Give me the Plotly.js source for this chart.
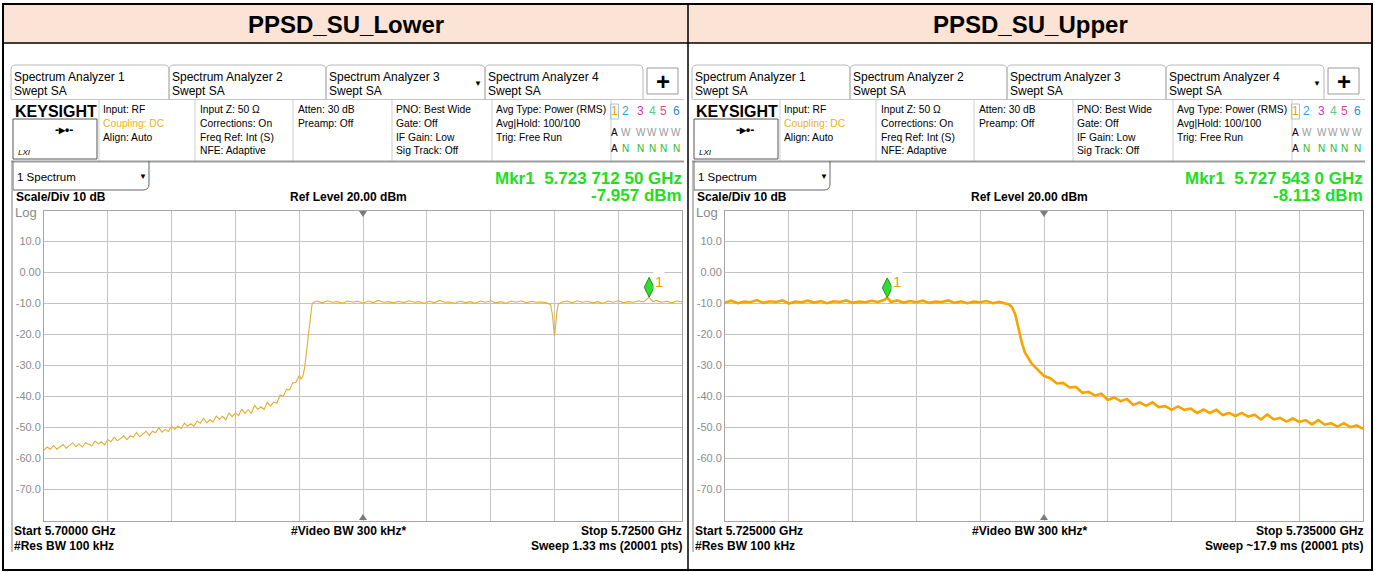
<!DOCTYPE html>
<html>
<head>
<meta charset="utf-8">
<script src="https://cdn.plot.ly/plotly-3.0.1.min.js"></script>
<style>html,body{margin:0;padding:0;background:#fff;}#chart{width:1375px;height:572px;}</style>
</head>
<body>
<div id="chart"></div>
<script>
// ---------------- DATA ----------------
const panelTitles = ["PPSD_SU_Lower", "PPSD_SU_Upper"];
const yTickVals = [10, 0, -10, -20, -30, -40, -50, -60, -70];
const yTickText = ["10.0", "0.00", "-10.0", "-20.0", "-30.0", "-40.0", "-50.0", "-60.0", "-70.0"];

// Lower trace (MHz, dBm)
const lowerFreqMHz = [
 5700.000,5700.125,5700.250,5700.375,5700.500,5700.625,5700.750,5700.875,5701.000,5701.125,5701.250,5701.375,5701.500,5701.625,5701.750,5701.875,
 5702.000,5702.125,5702.250,5702.375,5702.500,5702.625,5702.750,5702.875,5703.000,5703.125,5703.250,5703.375,5703.500,5703.625,5703.750,5703.875,
 5704.000,5704.125,5704.250,5704.375,5704.500,5704.625,5704.750,5704.875,5705.000,5705.125,5705.250,5705.375,5705.500,5705.625,5705.750,5705.875,
 5706.000,5706.125,5706.250,5706.375,5706.500,5706.625,5706.750,5706.875,5707.000,5707.125,5707.250,5707.375,5707.500,5707.625,5707.750,5707.875,
 5708.000,5708.125,5708.250,5708.375,5708.500,5708.625,5708.750,5708.875,5709.000,5709.125,5709.250,5709.375,5709.500,5709.625,5709.750,5709.875,
 5710.000,5710.080,5710.160,5710.220,5710.280,5710.340,5710.400,5710.450,5710.500,5710.560,
 5710.7,5710.9,5711.1,5711.3,5711.5,5711.7,5711.9,5712.1,5712.3,5712.5,5712.7,5712.9,5713.1,5713.3,5713.5,5713.7,5713.9,
 5714.1,5714.3,5714.5,5714.7,5714.9,5715.1,5715.3,5715.5,5715.7,5715.9,5716.1,5716.3,5716.5,5716.7,5716.9,5717.1,5717.3,
 5717.5,5717.7,5717.9,5718.1,5718.3,5718.5,5718.7,5718.9,5719.1,5719.3,5719.5,5719.7,5719.85,5719.92,5719.97,5720.00,
 5720.04,5720.09,5720.15,5720.3,5720.5,5720.7,5720.9,5721.1,5721.3,5721.5,5721.7,5721.9,5722.1,5722.3,5722.5,5722.7,
 5722.9,5723.1,5723.3,5723.5,5723.7125,5723.85,5724.0,5724.2,5724.4,5724.6,5724.8,5725.0
];
const lowerLevelDbm = [
 -57.3,-56.3,-57.0,-55.8,-57.0,-56.1,-55.5,-56.7,-55.9,-54.9,-56.2,-55.3,-56.3,-54.9,-55.4,-55.9,
 -54.4,-55.3,-54.6,-55.6,-53.9,-54.6,-53.1,-54.3,-53.5,-52.7,-53.9,-52.7,-53.1,-51.6,-53.0,-52.0,
 -51.2,-52.5,-51.2,-51.7,-50.1,-51.5,-50.6,-51.3,-49.6,-50.6,-49.5,-50.3,-48.6,-49.6,-48.8,-49.6,
 -47.9,-48.6,-47.0,-48.5,-47.5,-48.2,-46.3,-47.3,-46.4,-47.5,-45.3,-46.5,-45.3,-46.2,-44.0,-45.5,
 -44.2,-45.5,-42.8,-44.2,-43.3,-44.2,-41.9,-43.1,-41.8,-42.1,-39.5,-39.9,-37.7,-37.8,-35.6,-35.4,
 -33.2,-34.4,-33.0,-30.2,-26.0,-21.0,-16.0,-12.5,-10.4,-9.6,
 -9.2,-9.8,-9.1,-9.6,-9.4,-9.9,-9.2,-9.5,-9.3,-9.9,-9.2,-9.7,-9.0,-9.6,-9.4,-9.8,-9.3,
 -9.7,-9.1,-9.6,-9.4,-9.9,-9.3,-9.7,-9.0,-9.6,-9.5,-9.9,-9.2,-9.7,-9.4,-9.9,-9.2,-9.6,
 -9.1,-9.8,-9.4,-9.9,-9.2,-9.6,-9.1,-9.8,-9.3,-9.6,-9.5,-9.8,-10.4,-13.5,-18.5,-20.5,
 -18.0,-13.0,-10.2,-9.5,-9.2,-9.8,-9.1,-9.6,-9.3,-9.8,-9.4,-9.9,-9.2,-9.6,-9.1,-9.7,
 -9.4,-9.6,-9.1,-9.5,-7.957,-9.4,-9.0,-9.6,-9.3,-9.8,-9.2,-9.5
];

// Upper trace (MHz, dBm)
const upperFreqMHz = [
 5725.0,5725.1,5725.2,5725.3,5725.4,5725.5,5725.6,5725.7,5725.8,5725.9,5726.0,5726.1,5726.2,5726.3,5726.4,5726.5,
 5726.6,5726.7,5726.8,5726.9,5727.0,5727.1,5727.2,5727.3,5727.4,5727.5,5727.543,5727.6,5727.7,5727.8,5727.9,5728.0,
 5728.1,5728.2,5728.3,5728.4,5728.5,5728.6,5728.7,5728.8,5728.9,5729.0,5729.1,5729.2,5729.3,5729.4,5729.45,5729.50,
 5729.55,5729.60,5729.65,5729.70,5729.75,5729.80,5729.85,5729.90,5729.95,5730.0,5730.1,5730.2,5730.3,5730.4,5730.5,5730.6,
 5730.7,5730.8,5730.9,5731.0,5731.1,5731.2,5731.3,5731.4,5731.5,5731.6,5731.7,5731.8,5731.9,5732.0,5732.1,5732.2,
 5732.3,5732.4,5732.5,5732.6,5732.7,5732.8,5732.9,5733.0,5733.1,5733.2,5733.3,5733.4,5733.5,5733.6,5733.7,5733.8,
 5733.9,5734.0,5734.1,5734.2,5734.3,5734.4,5734.5,5734.6,5734.7,5734.8,5734.9,5735.0
];
const upperLevelDbm = [
 -9.7,-9.1,-9.9,-9.4,-9.6,-8.9,-9.8,-9.3,-9.5,-9.0,-10.0,-9.4,-9.6,-9.1,-9.7,-9.2,
 -9.9,-9.3,-9.5,-9.0,-9.8,-9.4,-9.6,-9.1,-9.5,-8.8,-8.113,-9.5,-9.0,-9.7,-9.2,-9.6,
 -9.1,-9.8,-9.4,-9.5,-9.0,-9.8,-9.3,-9.9,-9.4,-9.6,-9.2,-9.9,-9.5,-10.0,-10.3,-11.2,
 -13.5,-18.0,-22.5,-25.8,-27.6,-29.2,-30.3,-31.4,-32.2,-33.4,-34.1,-35.8,-35.6,-37.1,-36.9,-38.8,
 -38.5,-39.7,-39.1,-41.1,-40.3,-41.5,-40.8,-42.7,-41.9,-43.0,-41.9,-43.4,-43.1,-44.3,-43.2,-44.3,
 -43.9,-45.3,-44.2,-45.3,-44.3,-46.0,-45.3,-46.3,-45.3,-46.5,-45.9,-47.4,-45.8,-47.4,-46.9,-48.1,
 -47.1,-48.2,-47.6,-49.0,-47.6,-49.1,-48.6,-49.7,-48.6,-49.9,-49.3,-50.4
];

const markerFreqMHz = [5723.7125, 5727.543];
const markerLevelDbm = [-7.957, -8.113];
const markerReadout = ["Mkr1  5.723 712 50 GHz", "Mkr1  5.727 543 0 GHz"];
const markerValueText = ["-7.957 dBm", "-8.113 dBm"];
const spanMHz = [[5700, 5725], [5725, 5735]];
const startText = ["Start 5.70000 GHz", "Start 5.725000 GHz"];
const stopText = ["Stop 5.72500 GHz", "Stop 5.735000 GHz"];
const sweepText = ["Sweep 1.33 ms (20001 pts)", "Sweep ~17.9 ms (20001 pts)"];
const dropdownTab = [3, 4];

// ---------------- HELPERS (layout in pixels -> paper) ----------------
const W = 1375, H = 572;
const X = x => x / W, Y = y => 1 - y / H;
const FONT = 'Liberation Sans, Arial, sans-serif';
const ann = [], shp = [];
function T(x, y, text, size, color, anchor, bold, bg) {
  const a = {xref:'paper', yref:'paper', x:X(x), y:Y(y), text: bold ? '<b>'+text+'</b>' : text,
    showarrow:false, xanchor:anchor||'left', yanchor:'middle', borderpad:0,
    font:{family:FONT, size:size, color:color||'#000'}};
  if (bg) a.bgcolor = bg;
  ann.push(a);
}
function L(x0,y0,x1,y1,c,w){ shp.push({type:'line',xref:'paper',yref:'paper',layer:'above',x0:X(x0),y0:Y(y0),x1:X(x1),y1:Y(y1),line:{color:c,width:w||1}}); }
function R(x0,y0,x1,y1,c,w,fill,layer){ shp.push({type:'rect',xref:'paper',yref:'paper',layer:layer||'above',x0:X(x0),y0:Y(y0),x1:X(x1),y1:Y(y1),line:{color:c,width:w===undefined?1:w},fillcolor:fill||'rgba(0,0,0,0)'}); }
function P(cmds, c, w, fill){
  const d = cmds.map(s => {
    let out = s[0];
    for (let i = 1; i < s.length; i += 2) out += ' ' + X(s[i]).toFixed(5) + ',' + Y(s[i+1]).toFixed(5);
    return out;
  }).join(' ');
  shp.push({type:'path',xref:'paper',yref:'paper',layer:'above',path:d,line:{color:c,width:w===undefined?1:w},fillcolor:fill||'rgba(0,0,0,0)'});
}

// ---------------- TABLE ----------------
R(3, 4, 1372, 43, '#000', 0, '#fbe4d5', 'below');
L(3, 43, 1372, 43, '#000', 1.5);
L(688, 4, 688, 570, '#000', 1.5);
R(3, 4, 1372, 570, '#000', 2);
T(345.5, 24, panelTitles[0], 24, '#000', 'center', true);
T(1030, 24, panelTitles[1], 24, '#000', 'center', true);

// ---------------- INSTRUMENT CHROME ----------------
const plotL = [44, 725], plotR = [682, 1363];
const traceNumColors = ['#f0a000', '#22aadd', '#cc33cc', '#55cc88', '#ee4488', '#3388dd'];
const traceNumX = [614, 625.5, 640.5, 652, 663.5, 676];

for (let p = 0; p < 2; p++) {
  const o = p * 681;
  // tabs
  const tabs = [[11,169],[169,326],[326,485],[485,643]];
  tabs.forEach((t, i) => {
    const x0 = t[0]+o, x1 = t[1]+o, y0 = 65, y1 = 99, r = 5;
    P([['M',x0,y1],['L',x0,y0+r],['Q',x0,y0,x0+r,y0],['L',x1-r,y0],['Q',x1,y0,x1,y0+r],['L',x1,y1]], '#b8b8b8', 1);
    T(x0+2, 77, 'Spectrum Analyzer ' + (i+1), 12, '#000');
    T(x0+2, 90.5, 'Swept SA', 12, '#000');
    if (dropdownTab[p] === i+1) T(x1-7, 83, '▼', 8, '#000', 'center');
  });
  R(647+o, 68, 678+o, 94, '#9a9a9a', 1, '#fff');
  T(662.5+o, 81.5, '+', 24, '#000', 'center', true);

  // info panel
  L(11+o, 99.5, 684+o, 99.5, '#c4c4c4', 1);
  [99,195,293,392,492,611].forEach(x => L(x+o, 100, x+o, 161, '#cfcfcf', 1));
  T(14+o, 111, 'KEYSIGHT', 16, '#000', 'left', true);
  R(13+o, 119, 97+o, 159, '#555', 1);
  T(64+o, 130, '-▸•-', 12, '#000', 'center', true);
  T(17+o, 152, '<i>LXI</i>', 8, '#000');
  const cols = [
    [102, ['Input: RF', 'Coupling: DC', 'Align: Auto']],
    [199, ['Input Z: 50 Ω', 'Corrections: On', 'Freq Ref: Int (S)', 'NFE: Adaptive']],
    [297, ['Atten: 30 dB', 'Preamp: Off']],
    [395, ['PNO: Best Wide', 'Gate: Off', 'IF Gain: Low', 'Sig Track: Off']],
    [495, ['Avg Type: Power (RMS)', 'Avg|Hold: 100/100', 'Trig: Free Run']]
  ];
  cols.forEach(c => c[1].forEach((s, k) => T(c[0]+o, 110 + k*13.6, s, 10.3, (s === 'Coupling: DC') ? '#e8b21c' : '#000')));
  R(610.5+o, 104, 618.5+o, 119, '#a9c4d6', 1);
  traceNumX.forEach((x, k) => T(x+o, 111.5, String(k+1), 12, traceNumColors[k], 'center'));
  T(614+o, 132.5, 'A', 10, '#000', 'center');
  T(614+o, 148.5, 'A', 10, '#000', 'center');
  traceNumX.slice(1).forEach(x => { T(x+o, 132.5, 'W', 10, '#9a9a9a', 'center'); T(x+o, 148.5, 'N', 10, '#2cb82c', 'center'); });

  // spectrum header
  L(11+o, 161.5, 684+o, 161.5, '#9c9c9c', 2);
  P([['M',13+o,161],['L',13+o,190],['L',143+o,190],['Q',149+o,190,149+o,184],['L',149+o,161]], '#666', 1);
  T(16+o, 177, '1 Spectrum', 11.5, '#000');
  T(143+o, 177, '▼', 8, '#000', 'center');
  T(683+o, 178.5, markerReadout[p], 17, '#22dd22', 'right', true);
  T(683+o, 195.5, markerValueText[p], 17, '#22dd22', 'right', true);
  T(15+o, 197.5, 'Scale/Div 10 dB', 12, '#000', 'left', true);
  T(348+o, 197.5, 'Ref Level 20.00 dBm', 12, '#000', 'center', true);
  T(14+o, 212, 'Log', 13, '#8a8a8a');
  L(12+o, 162, 12+o, 552, '#a8a8a8', 1.5);

  // center reference triangles
  const cx = (plotL[p] + plotR[p]) / 2;
  P([['M',cx-4,211],['L',cx+4,211],['L',cx,217],['Z']], '#7a7a7a', 0, '#7a7a7a');
  P([['M',cx-4,520],['L',cx+4,520],['L',cx,514],['Z']], '#7a7a7a', 0, '#7a7a7a');

  // footer
  T(13+o, 530.5, startText[p], 12, '#000', 'left', true);
  T(13+o, 545.5, '#Res BW 100 kHz', 12, '#000', 'left', true);
  T(348+o, 530.5, '#Video BW 300 kHz*', 12, '#000', 'center', true);
  T(683+o, 530.5, stopText[p], 12, '#000', 'right', true);
  T(683+o, 545.5, sweepText[p], 12, '#000', 'right', true);
}

// ---------------- TRACES ----------------
const diamondLiftDb = 3.2;
const traces = [
  {x: lowerFreqMHz, y: lowerLevelDbm, xaxis:'x', yaxis:'y', type:'scatter', mode:'lines', line:{color:'#e6ad2e', width:1.1}, hoverinfo:'skip'},
  {x: upperFreqMHz, y: upperLevelDbm, xaxis:'x2', yaxis:'y2', type:'scatter', mode:'lines', line:{color:'#f7a400', width:2.6}, hoverinfo:'skip'}
];
['x','x2'].forEach((xa, p) => {
  traces.push({x:[markerFreqMHz[p]], y:[markerLevelDbm[p] + diamondLiftDb], xaxis:xa, yaxis: p ? 'y2' : 'y', type:'scatter', mode:'markers',
    marker:{symbol:'diamond-tall', size:14, color:'#33dd33', line:{color:'#129a12', width:1}}, hoverinfo:'skip'});
  ann.push({xref:xa, yref: p ? 'y2' : 'y', x:markerFreqMHz[p], y:markerLevelDbm[p] + diamondLiftDb, text:'1', showarrow:false,
    xanchor:'left', yanchor:'middle', xshift:4, yshift:6, bgcolor:'#fff', borderpad:1, font:{family:FONT, size:15, color:'#f0a000'}});
});

function xAxis(p) {
  return {domain:[X(plotL[p]), X(plotR[p])], range:spanMHz[p], tick0:spanMHz[p][0], dtick:(spanMHz[p][1]-spanMHz[p][0])/10,
    showticklabels:false, ticks:'', showgrid:true, gridcolor:'#c3c3c3', gridwidth:1, zeroline:false,
    showline:true, mirror:true, linecolor:'#a6a6a6', linewidth:1, anchor: p ? 'y2' : 'y', fixedrange:true};
}
function yAxis(p) {
  return {domain:[Y(520.5), Y(210.5)], range:[-80, 20], tickvals:yTickVals, ticktext:yTickText, ticks:'',
    tickfont:{family:FONT, size:11, color:'#8c8c8c'}, showgrid:true, gridcolor:'#c3c3c3', gridwidth:1, zeroline:false,
    showline:true, mirror:true, linecolor:'#a6a6a6', linewidth:1, anchor: p ? 'x2' : 'x', fixedrange:true};
}

const layout = {
  width: W, height: H, margin:{l:0, r:0, t:0, b:0}, paper_bgcolor:'#fff', plot_bgcolor:'#fff',
  showlegend:false, font:{family:FONT},
  xaxis:xAxis(0), yaxis:yAxis(0), xaxis2:xAxis(1), yaxis2:yAxis(1),
  annotations: ann, shapes: shp
};
Plotly.newPlot('chart', traces, layout, {staticPlot:true, displayModeBar:false});
</script>
</body>
</html>
